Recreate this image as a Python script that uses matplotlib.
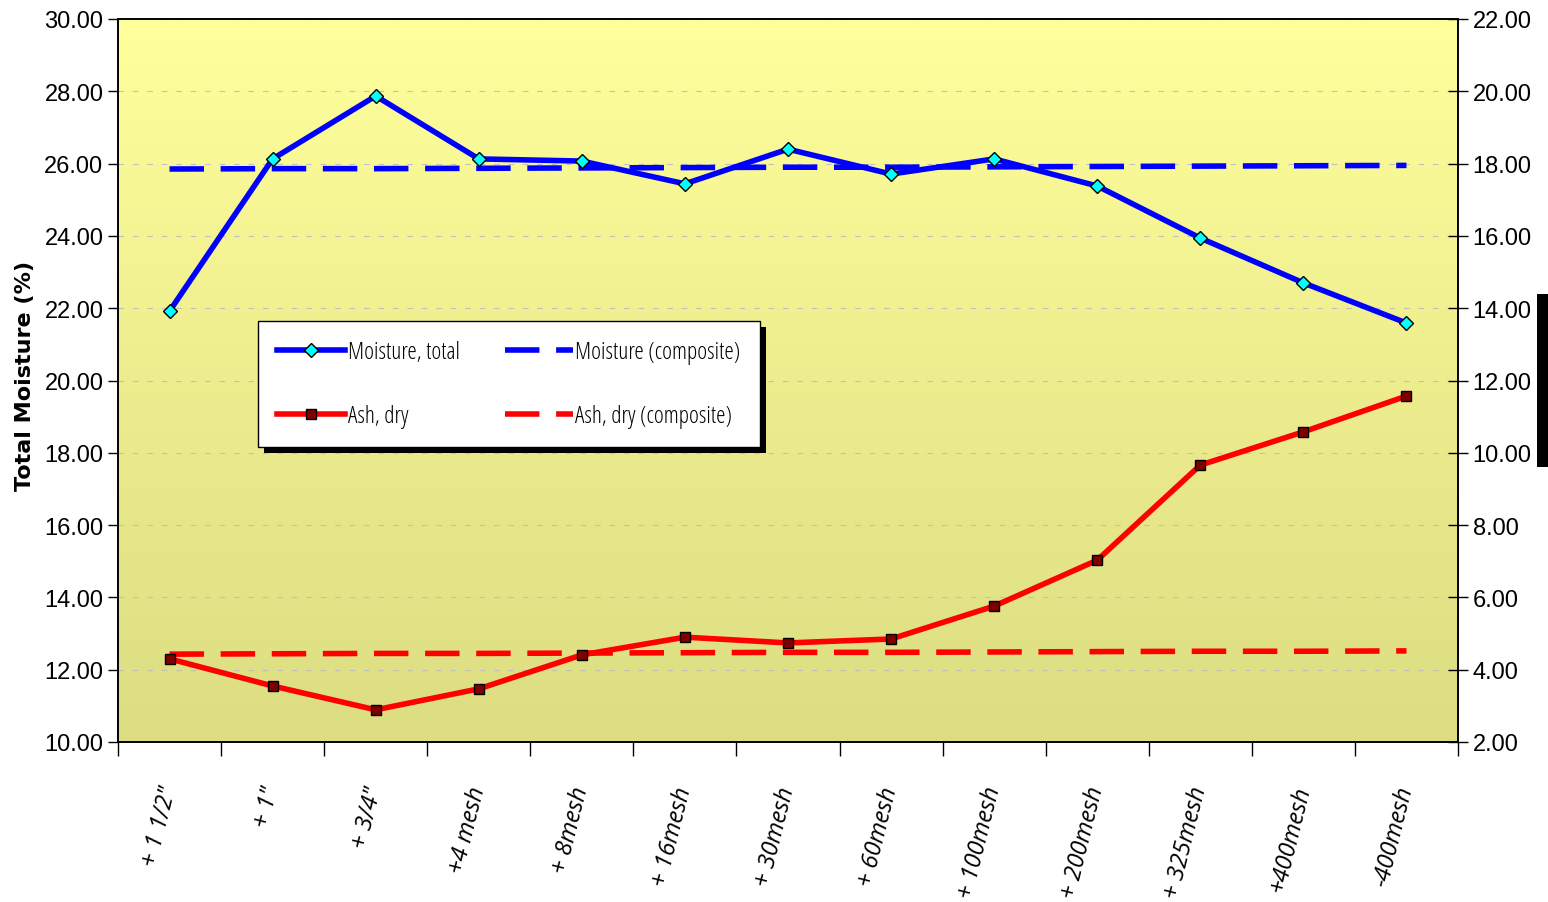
import matplotlib
matplotlib.use('Agg')
import matplotlib.pyplot as plt
import numpy as np
from matplotlib.patches import Rectangle
from matplotlib.colors import LinearSegmentedColormap

# size fractions
sizes = ['+ 1 1/2"', '+ 1"', '+ 3/4"', '+4 mesh', '+ 8mesh', '+ 16mesh', '+ 30mesh',
         '+ 60mesh', '+ 100mesh', '+ 200mesh', '+ 325mesh', '+400mesh', '-400mesh']
moisture_total = [21.92, 26.13, 27.87, 26.13, 26.07, 25.44, 26.40, 25.71, 26.13, 25.38, 23.94, 22.70, 21.59]
moisture_comp = [25.85, 25.86, 25.86, 25.87, 25.88, 25.89, 25.90, 25.90, 25.91, 25.92, 25.93, 25.94, 25.95]
ash_dry = [4.30, 3.55, 2.89, 3.47, 4.41, 4.90, 4.74, 4.85, 5.76, 7.03, 9.66, 10.58, 11.57]
ash_comp = [4.43, 4.44, 4.45, 4.45, 4.46, 4.47, 4.48, 4.48, 4.49, 4.50, 4.51, 4.51, 4.52]

tickfont = {'family': 'Liberation Sans', 'size': 17}
legfont = {'family': 'Open Sans', 'stretch': 'condensed', 'size': 17}

fig = plt.figure(figsize=(15.48, 9.03), dpi=100)
ax = fig.add_axes([118/1548, 1-743/903, 1340/1548, 723/903])
x = np.arange(len(sizes))

# yellow gradient background
cmap = LinearSegmentedColormap.from_list('bg', ['#dcdc82', '#ffff9c'])
grad = np.linspace(0, 1, 256).reshape(-1, 1)
ax.imshow(grad, extent=[-0.5, 12.5, 10, 30], aspect='auto', cmap=cmap, origin='lower', zorder=0)

ax.set_xlim(-0.5, 12.5)
ax.set_ylim(10, 30)
ax.set_yticks(np.arange(10, 30.1, 2))
ax.set_yticklabels([f'{v:.2f}' for v in np.arange(10, 30.1, 2)], **tickfont)
ax.grid(axis='y', color='#c0c0c0', linestyle=(0, (5, 8)), linewidth=0.8)

ax.set_xticks(np.arange(-0.5, 12.6, 1))
ax.set_xticklabels([])
ax.set_xticks(x, minor=True)
ax.set_xticklabels(sizes, minor=True, rotation=76, ha='right', va='center',
                   rotation_mode='anchor', fontsize=17, style='italic', family='Open Sans')
ax.tick_params(axis='x', which='major', length=10, width=1)
ax.tick_params(axis='x', which='minor', length=0, pad=32)
ax.tick_params(axis='y', length=7, width=1)
for s in ax.spines.values():
    s.set_linewidth(1.2)

l1, = ax.plot(x, moisture_total, color='#0000ff', lw=4, marker='D', ms=7,
              mfc='#00ffff', mec='black', mew=1, label='Moisture, total', zorder=4)
l2, = ax.plot(x, moisture_comp, color='#0000ff', lw=4, dashes=(6.2, 3),
              label='Moisture (composite)', zorder=3)

ax.set_ylabel('Total Moisture (%)', fontsize=16, fontweight='bold')
ax.yaxis.set_label_coords(-0.062, 0.5076)

ax2 = ax.twinx()
ax2.set_ylim(2, 22)
ax2.set_yticks(np.arange(2, 22.1, 2))
ax2.set_yticklabels([f'{v:.2f}' for v in np.arange(2, 22.1, 2)], **tickfont)
ax2.tick_params(axis='y', direction='inout', length=14, width=1)
for s in ax2.spines.values():
    s.set_linewidth(1.2)

l4, = ax2.plot(x, ash_comp, color='#ff0000', lw=4, dashes=(6.2, 3),
               label='Ash, dry (composite)', zorder=3)
l3, = ax2.plot(x, ash_dry, color='#ff0000', lw=4, marker='s', ms=7,
               mfc='#800000', mec='black', mew=1, label='Ash, dry', zorder=4)

leg = ax2.legend([l1, l3, l2, l4], [h.get_label() for h in [l1, l3, l2, l4]],
                 ncol=2, loc='upper left', bbox_to_anchor=(0.1045, 0.5823),
                 borderaxespad=0, prop=legfont, handlelength=2.9,
                 handletextpad=0.1, labelspacing=1.7, columnspacing=1.9,
                 borderpad=0.8, frameon=True, fancybox=False, framealpha=1,
                 edgecolor='black')
leg.get_frame().set_linewidth(1)
leg.set_zorder(10)

# drop shadow under the legend
fig.canvas.draw()
bb = leg.get_window_extent().transformed(fig.transFigure.inverted())
ax2.add_patch(Rectangle((bb.x0 + 6/1548, bb.y0 - 6/903), bb.width, bb.height,
                        transform=fig.transFigure, facecolor='black', zorder=9, clip_on=False))
ax2.set_zorder(ax.get_zorder() + 1)

# clipped label box at the right edge
fig.patches.append(Rectangle((1537/1548, 1-468/903), 11/1548, 173/903,
                             transform=fig.transFigure, facecolor='black', zorder=1))

fig.savefig('out.png', dpi=100)
